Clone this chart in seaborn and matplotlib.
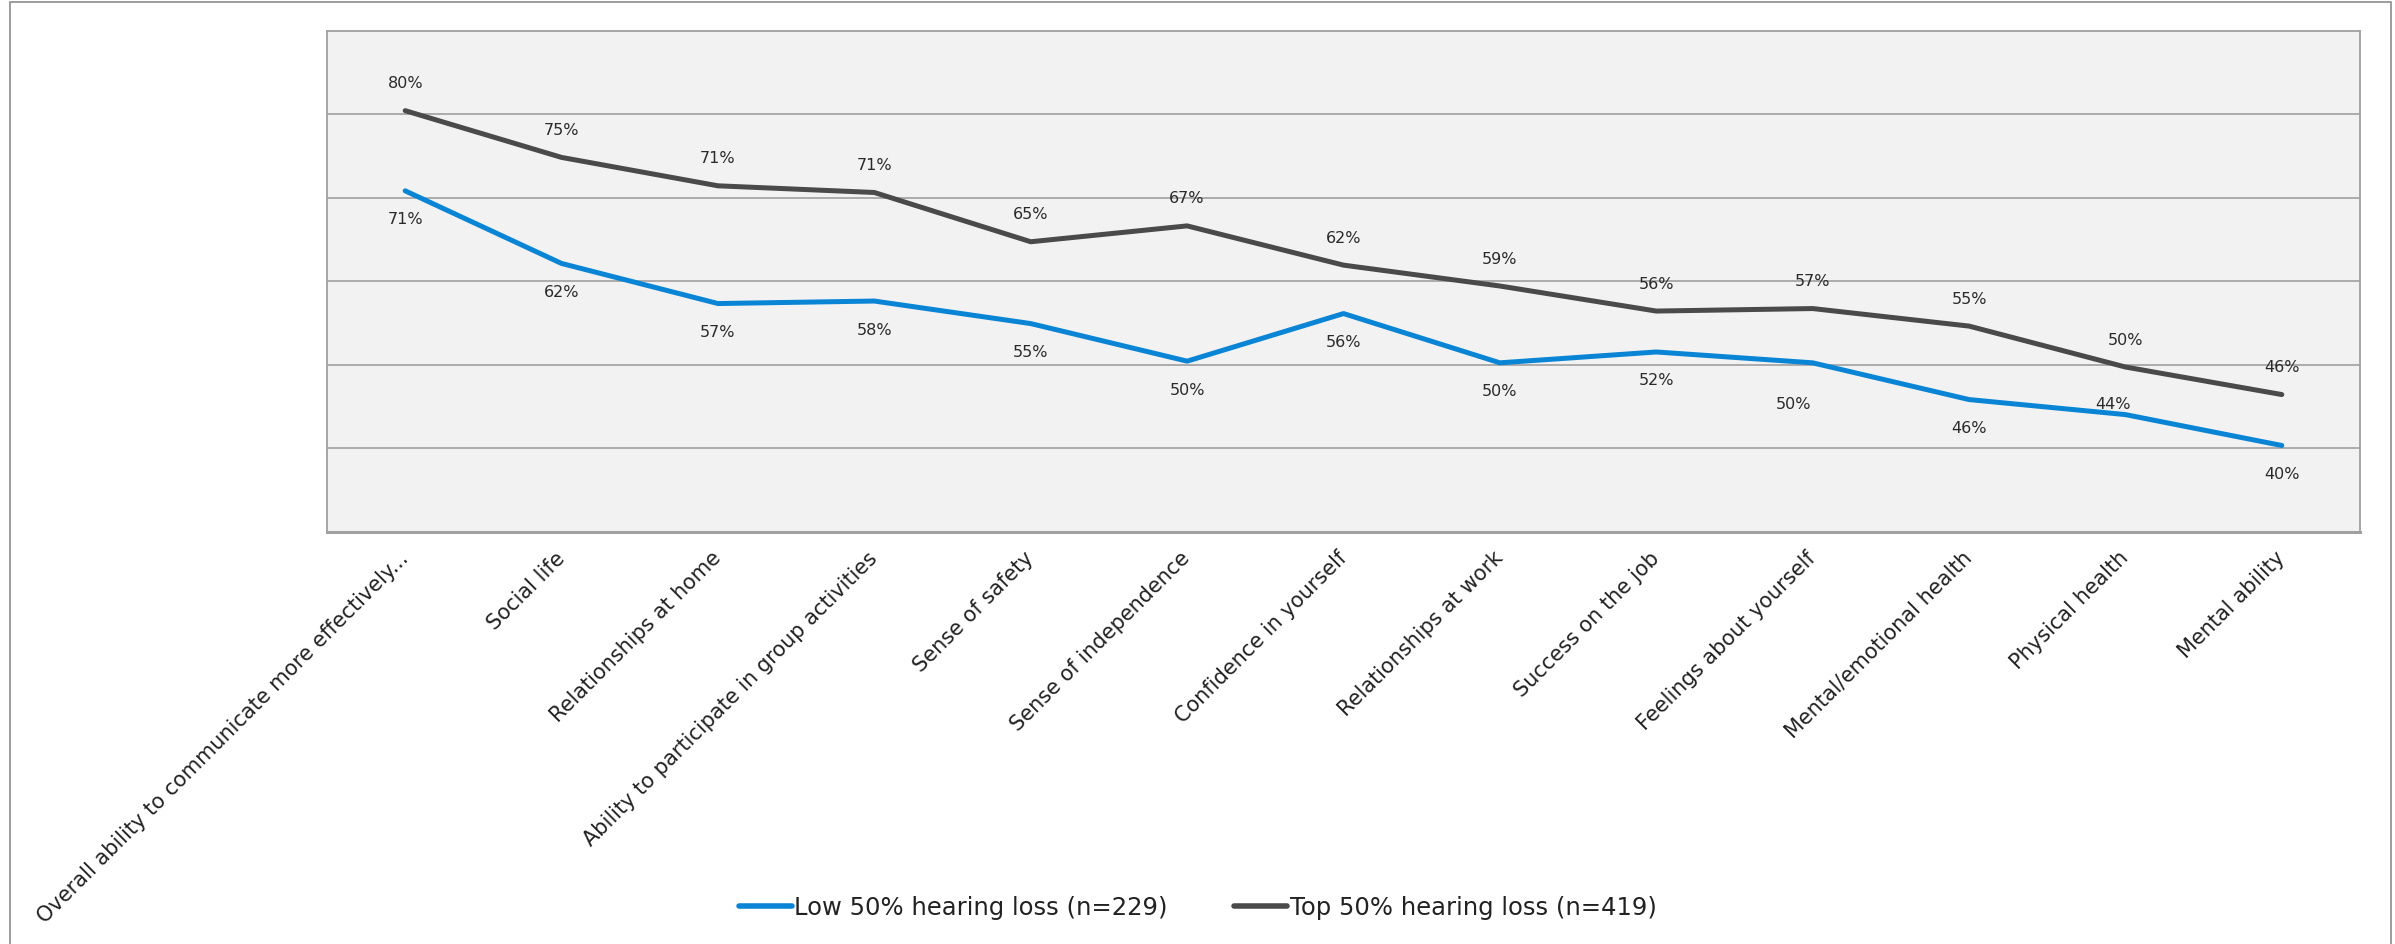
import matplotlib
matplotlib.use("Agg")
import matplotlib.pyplot as plt
import matplotlib.patches as mpatches
import seaborn as sns
import pandas as pd

# categorias e valores
categorias = [
    "Overall ability to communicate more effectively...",
    "Social life",
    "Relationships at home",
    "Ability to participate in group activities",
    "Sense of safety",
    "Sense of independence",
    "Confidence in yourself",
    "Relationships at work",
    "Success on the job",
    "Feelings about yourself",
    "Mental/emotional health",
    "Physical health",
    "Mental ability",
]
baixa = [70.8, 62.1, 57.3, 57.6, 54.9, 50.4, 56.1, 50.2, 51.5, 50.2, 45.8, 44.0, 40.3]
alta = [80.4, 74.8, 71.4, 70.6, 64.7, 66.6, 61.9, 59.4, 56.4, 56.7, 54.6, 49.7, 46.4]
series = ["Low 50% hearing loss (n=229)", "Top 50% hearing loss (n=419)"]

# deslocamento dos rótulos (pixels)
desloc_baixa = [(0, -29)] * 13
desloc_baixa[9] = (-19, -42)
desloc_baixa[11] = (-12, 10)
desloc_alta = [(0, 27)] * 13

cores = {series[0]: "#0A85D5", series[1]: "#4A4A4A"}

df = pd.DataFrame({
    "cat": categorias * 2,
    "pos": list(range(len(categorias))) * 2,
    "valor": baixa + alta,
    "serie": [series[0]] * len(baixa) + [series[1]] * len(alta),
})

sns.set_style("white")
plt.rcParams["font.family"] = ["DejaVu Sans"]

fig = plt.figure(figsize=(23.95, 9.44), dpi=100)
ax = fig.add_axes([327 / 2395, 1 - 531.5 / 944, (2360 - 327) / 2395, (531.5 - 30.5) / 944])
ax.set_facecolor("#F2F2F2")

sns.lineplot(data=df, x="pos", y="valor", hue="serie", palette=cores,
             linewidth=3.6, sort=False, legend=False, ax=ax)

# rótulos de dados
for i, v in enumerate(baixa):
    ax.annotate(f"{v:.0f}%", (i, v), xytext=desloc_baixa[i], textcoords="offset pixels",
                ha="center", va="center", fontsize=11.5, color="#2A2A2A")
for i, v in enumerate(alta):
    ax.annotate(f"{v:.0f}%", (i, v), xytext=desloc_alta[i], textcoords="offset pixels",
                ha="center", va="center", fontsize=11.5, color="#2A2A2A")

ax.set_xlim(-0.5, len(categorias) - 0.5)
ax.set_ylim(30, 90)
ax.set_yticks([40, 50, 60, 70, 80])
ax.yaxis.grid(True, color="#A6A6A6", linewidth=1.3)
ax.tick_params(axis="y", left=False, labelleft=False)
ax.set_xlabel("")
ax.set_ylabel("")

ax.set_xticks(range(len(categorias)))
ax.set_xticklabels(categorias, rotation=45, ha="right", va="center",
                   rotation_mode="anchor", fontsize=15, color="#222222")
ax.tick_params(axis="x", which="major", length=0, pad=17)
ax.set_xticks([x - 0.5 for x in range(len(categorias) + 1)], minor=True)
ax.tick_params(axis="x", which="minor", length=6, width=1.3, color="#A6A6A6", direction="out")

for lado, sp in ax.spines.items():
    sp.set_visible(True)
    sp.set_color("#A0A0A0")
    sp.set_linewidth(1.3)
ax.spines["bottom"].set_linewidth(2.2)

# legenda
alcas = [plt.Line2D([], [], color=cores[s], linewidth=4, solid_capstyle="round") for s in series]
fig.legend(alcas, series, loc="center", bbox_to_anchor=(0.5, 1 - 908 / 944), ncol=2,
           frameon=False, fontsize=17.5, handlelength=2.2, handletextpad=0.1,
           columnspacing=2.7, labelcolor="#222222")

# moldura externa
fig.patches.append(mpatches.Rectangle((10 / 2395, -0.02), (2391 - 10) / 2395, 1.02 - 2 / 944,
                                      transform=fig.transFigure, fill=False,
                                      edgecolor="#8C8C8C", linewidth=1.2))

fig.savefig("out.png", dpi=100)
